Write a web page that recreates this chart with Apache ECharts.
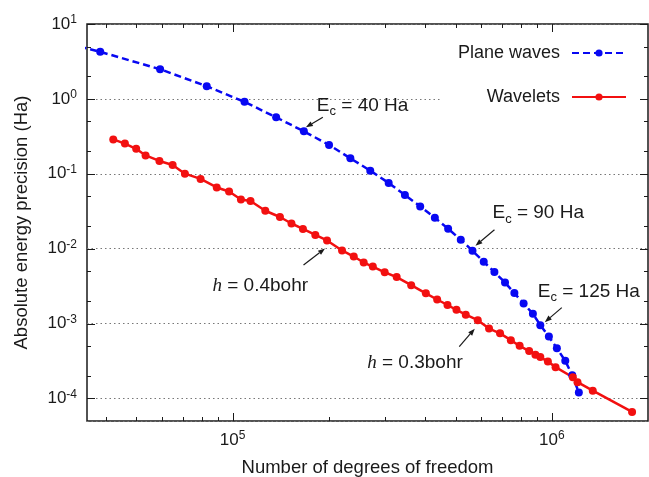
<!DOCTYPE html>
<html>
<head>
<meta charset="utf-8">
<script src="https://cdn.jsdelivr.net/npm/echarts@6/dist/echarts.min.js"></script>
<style>
  html, body { margin: 0; padding: 0; background: #fff; }
  #chart { width: 649px; height: 477px; }
</style>
</head>
<body>
<div id="chart"></div>
<script>
// axis ranges and tick values
const xRange = [3.5e4, 2e6];
const yRange = [5e-5, 10];
const xMajorTicks = [1e5, 1e6];
const xMinorTicks = [4e4, 5e4, 6e4, 7e4, 8e4, 9e4, 2e5, 3e5, 4e5, 5e5, 6e5, 7e5, 8e5, 9e5];
const yMajorTicks = [1e-4, 1e-3, 1e-2, 1e-1, 1, 10];
const yMinorTicks = [2e-4, 5e-4, 2e-3, 5e-3, 2e-2, 5e-2, 2e-1, 5e-1, 2, 5];

// plane waves (first point lies left of the plotted range)
const planeN = [20900, 38500, 59300, 83000, 109000, 136900, 167200, 200500, 233800, 269900, 308200,
  346500, 386900, 430000, 473200, 518400, 564000, 611700, 660700, 713200, 763000, 815600, 872000,
  919800, 978600, 1036600, 1101400, 1158300, 1214600];
const planeErr = [8.2, 4.25, 2.49, 1.475, 0.913, 0.568, 0.369, 0.2428, 0.1608, 0.1101, 0.0754,
  0.0521, 0.0367, 0.0259, 0.01847, 0.01316, 0.00938, 0.00669, 0.00487, 0.00354, 0.00255, 0.00185,
  0.00135, 0.000953, 0.000671, 0.000467, 0.000318, 0.000204, 0.00012];

// wavelets
const waveletN = [42300, 46000, 49900, 53400, 59000, 64900, 70900, 79400, 89200, 97500, 106200,
  113800, 126600, 140700, 152900, 166100, 181600, 197600, 220200, 239600, 257400, 274900, 299500,
  326500, 362600, 403000, 437200, 471000, 502500, 537400, 586000, 635600, 688000, 743800, 792500,
  848800, 888000, 919900, 971600, 1027000, 1163000, 1203000, 1343000, 1783000];
const waveletErr = [0.2877, 0.2528, 0.2154, 0.1758, 0.1484, 0.1312, 0.1004, 0.0855, 0.0657, 0.058,
  0.0454, 0.0433, 0.0321, 0.02648, 0.02168, 0.01836, 0.01526, 0.01288, 0.00947, 0.00785, 0.00653,
  0.00577, 0.00484, 0.00417, 0.00326, 0.002535, 0.002095, 0.001769, 0.001526, 0.001316, 0.001111,
  0.000858, 0.00074, 0.0006, 0.000504, 0.000429, 0.000384, 0.000357, 0.000311, 0.000262, 0.000192,
  0.000165, 0.000127, 0.0000661];

// annotations: which point they point at, offsets in px from that point
const notes = [
  { s: 0, i: 6,  text: '{n|E}{c|c}{n| = 40 Ha}',  tip: [2, -4],    tail: [19, -14],    at: [13, -26],   align: 'left' },
  { s: 0, i: 16, text: '{n|E}{c|c}{n| = 90 Ha}',  tip: [3, -5],    tail: [22, -21],    at: [20, -38],   align: 'left' },
  { s: 0, i: 23, text: '{n|E}{c|c}{n| = 125 Ha}', tip: [4.5, -3],  tail: [21.5, -17.5], at: [-2.5, -34], align: 'left' },
  { s: 1, i: 17, text: '{i|h}{n| = 0.4bohr}',      tip: [-2, 8],    tail: [-23.5, 24.5], at: [-19, 45],  align: 'right' },
  { s: 1, i: 30, text: '{i|h}{n| = 0.3bohr}',      tip: [-3, 8.5],  tail: [-18.5, 26.5], at: [-15, 42],  align: 'right' }
];

const FONT = '"Liberation Sans", Arial, sans-serif';
const INK = '#1a1a1a';
const BLUE = '#0808f2';
const RED = '#f21010';
const lg = Math.log10;

const chart = echarts.init(document.getElementById('chart'));

const zip = (xs, ys) => xs.map((x, k) => [x, ys[k]]);
const powLabel = v => '{b|10}{s|' + Math.round(lg(v)) + '}';
const powRich = {
  b: { fontSize: 17, fontFamily: FONT, color: INK, lineHeight: 22, verticalAlign: 'middle' },
  s: { fontSize: 12, fontFamily: FONT, color: INK, lineHeight: 12, verticalAlign: 'top', padding: [1, 0, 0, 0] }
};

function logAxis(pos, range, extra) {
  return Object.assign({
    type: 'log', logBase: 10, position: pos, min: range[0], max: range[1],
    axisLine: { show: false, onZero: false },
    axisTick: { show: false }, minorTick: { show: false },
    axisLabel: { show: false }, splitLine: { show: false }
  }, extra || {});
}

const option = {
  animation: false,
  backgroundColor: '#fff',
  grid: {
    left: 87, right: 1, top: 24, bottom: 56,
    containLabel: false, outerBoundsMode: 'none',
    show: true, borderColor: INK, borderWidth: 1.5, backgroundColor: 'transparent'
  },
  legend: [
    {
      data: ['Plane waves'], right: 22, top: 44, align: 'right', orient: 'vertical',
      itemWidth: 54, itemHeight: 9, padding: 0, selectedMode: false,
      textStyle: { fontSize: 18, fontFamily: FONT, color: INK, padding: [0, 7, 0, 0] }
    },
    {
      data: ['Wavelets'], right: 2, top: 84, align: 'right', orient: 'vertical',
      itemWidth: 54, itemHeight: 9, padding: [4, 20, 4, 46], backgroundColor: '#fff', selectedMode: false,
      textStyle: { fontSize: 18, fontFamily: FONT, color: INK, padding: [0, 7, 0, 0] }
    }
  ],
  xAxis: [
    logAxis('bottom', xRange, {
      name: 'Number of degrees of freedom', nameLocation: 'middle', nameGap: 37, nameMoveOverlap: false,
      nameTextStyle: { fontSize: 18.5, fontFamily: FONT, color: INK },
      axisLabel: { show: true, margin: 8, formatter: powLabel, rich: powRich, showMinLabel: false, showMaxLabel: false }
    })
  ],
  yAxis: [
    logAxis('left', yRange, {
      name: 'Absolute energy precision (Ha)', nameLocation: 'middle', nameGap: 56, nameMoveOverlap: false,
      nameTextStyle: { fontSize: 18.5, fontFamily: FONT, color: INK },
      axisLabel: { show: true, margin: 10, formatter: powLabel, rich: powRich, showMinLabel: false },
      splitLine: { show: true, lineStyle: { type: [1.5, 3], color: '#777', width: 1 } }
    })
  ],
  series: [
    {
      name: 'Plane waves', type: 'line',
      data: zip(planeN, planeErr), clip: true,
      symbol: 'circle', symbolSize: 8,
      itemStyle: { color: BLUE },
      lineStyle: { color: BLUE, width: 2.5, type: [7, 4] },
      emphasis: { disabled: true }
    },
    {
      name: 'Wavelets', type: 'line',
      data: zip(waveletN, waveletErr), clip: true,
      symbol: 'circle', symbolSize: 8,
      itemStyle: { color: RED },
      lineStyle: { color: RED, width: 2.5 },
      emphasis: { disabled: true }
    }
  ]
};

chart.setOption(option);

const toPx = v => chart.convertToPixel({ xAxisIndex: 0, yAxisIndex: 0 }, v);
const graphics = [];
const seg = (x1, y1, x2, y2, w) => graphics.push({
  type: 'line', z: 10, silent: true,
  shape: { x1: x1, y1: y1, x2: x2, y2: y2 },
  style: { stroke: INK, lineWidth: w || 1 }
});

// inward ticks on all four sides, placed through the axes
const corner0 = toPx([xRange[0], yRange[0]]);
const corner1 = toPx([xRange[1], yRange[1]]);
const frameL = corner0[0], frameB = corner0[1], frameR = corner1[0], frameT = corner1[1];
[[xMajorTicks, 8], [xMinorTicks, 4]].forEach(([vals, len]) => vals.forEach(v => {
  const px = Math.round(toPx([v, yRange[0]])[0]) + 0.5;
  seg(px, frameB, px, frameB - len);
  seg(px, frameT, px, frameT + len);
}));
[[yMajorTicks, 8], [yMinorTicks, 4]].forEach(([vals, len]) => vals.forEach(v => {
  const py = Math.round(toPx([xRange[0], v])[1]) + 0.5;
  seg(frameL, py, frameL + len, py);
  seg(frameR, py, frameR - len, py);
}));

// arrows and texts, placed from the data points through the chart's own axes
const noteRich = {
  n: { fontSize: 19, fontFamily: FONT, color: INK, lineHeight: 18, verticalAlign: 'top' },
  c: { fontSize: 13, fontFamily: FONT, color: INK, lineHeight: 22, verticalAlign: 'bottom' },
  i: { fontSize: 19, fontFamily: '"Liberation Serif", "DejaVu Serif", serif', fontStyle: 'italic', color: INK, lineHeight: 18, verticalAlign: 'top' }
};
const seriesPts = [zip(planeN, planeErr), zip(waveletN, waveletErr)];
notes.forEach(nt => {
  const p = toPx(seriesPts[nt.s][nt.i]);
  const tip = [p[0] + nt.tip[0], p[1] + nt.tip[1]];
  const tail = [p[0] + nt.tail[0], p[1] + nt.tail[1]];
  const dx = tip[0] - tail[0], dy = tip[1] - tail[1], L = Math.hypot(dx, dy);
  const ux = dx / L, uy = dy / L, hl = 7, hw = 2.6;
  const bx = tip[0] - ux * hl, by = tip[1] - uy * hl;
  seg(tail[0], tail[1], bx, by, 1.2);
  graphics.push({
    type: 'polygon', z: 10, silent: true,
    shape: { points: [tip, [bx - uy * hw, by + ux * hw], [bx + uy * hw, by - ux * hw]] },
    style: { fill: INK }
  });
  graphics.push({
    type: 'text', z: 10, silent: true,
    x: p[0] + nt.at[0], y: p[1] + nt.at[1] - 9,
    style: { text: nt.text, rich: noteRich, align: nt.align, verticalAlign: 'top', fill: INK, font: '19px ' + FONT }
  });
});
chart.setOption({ graphic: graphics });
</script>
</body>
</html>
